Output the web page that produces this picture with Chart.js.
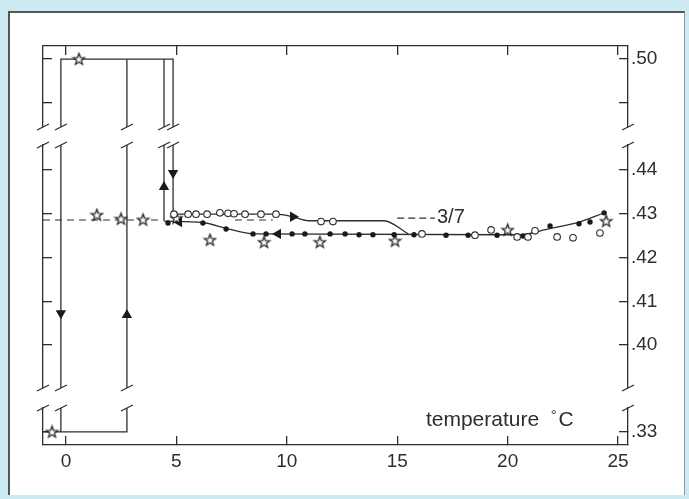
<!DOCTYPE html>
<html>
<head>
<meta charset="utf-8">
<script src="https://cdn.jsdelivr.net/npm/chart.js@4.4.1/dist/chart.umd.min.js"></script>
<style>
html, body { margin: 0; padding: 0; width: 689px; height: 499px; overflow: hidden; background: #cde9f2; }
#panel { position: absolute; left: 8px; top: 11px; width: 674px; height: 482px; background: #fff;
         border-left: 2px solid #555; border-top: 2px solid #555; border-right: 1px solid #999; }
canvas { position: absolute; left: 0; top: 0; }
</style>
</head>
<body>
<div id="panel"></div>
<canvas id="chart" width="689" height="499"></canvas>
<script>
// temperature axis
const xRange = [-1.04, 25.45];
const xTicks = [0, 5, 10, 15, 20, 25];

// broken value axis, three pieces
const topRange = [0.4845, 0.503];
const midRange = [0.3902, 0.4457];
const botRange = [0.327, 0.3355];
const topTicks = [0.49, 0.50];
const midTicks = [0.40, 0.41, 0.42, 0.43, 0.44];
const botTicks = [0.33];

// open circles
const openT = [4.89, 5.53, 5.89, 6.39, 6.97, 7.34, 7.61, 8.11, 8.83, 9.51, 11.55, 12.09,
               16.12, 18.52, 19.25, 20.43, 20.92, 21.24, 22.24, 22.96, 24.18];
const openV = [0.4299, 0.4299, 0.4299, 0.4299, 0.4302, 0.4301, 0.4300, 0.4299, 0.4299, 0.4299, 0.4282, 0.4282,
               0.4254, 0.4251, 0.4263, 0.4247, 0.4247, 0.4261, 0.4247, 0.4245, 0.4256];

// filled dots
const dotT = [4.62, 6.20, 7.25, 8.47, 9.06, 10.24, 10.82, 11.96, 12.64, 13.27, 13.90, 14.86,
              15.76, 17.21, 18.21, 19.52, 20.70, 21.92, 23.23, 23.73, 24.37];
const dotV = [0.4279, 0.4279, 0.4265, 0.4254, 0.4254, 0.4254, 0.4254, 0.4254, 0.4254, 0.4252, 0.4252, 0.4252,
              0.4252, 0.4251, 0.4251, 0.4251, 0.4249, 0.4272, 0.4277, 0.4281, 0.4302];

// stars
const starT = [0.59, -0.63, 1.40, 2.49, 3.49, 5.00, 6.52, 8.97, 11.50, 14.90, 20.00, 24.46];
const starV = [0.50, 0.33, 0.4297, 0.4288, 0.4286, 0.4290, 0.4240, 0.4235, 0.4235, 0.4238, 0.4263, 0.4283];

// arrow heads
const downT = [-0.23, 4.85];
const downV = [0.4073, 0.4393];
const upT = [2.76, 4.44];
const upV = [0.4069, 0.4361];
const rightT = [10.28];
const rightV = [0.4293];
const leftT = [5.12, 9.60];
const leftV = [0.4281, 0.4254];

// curves
const upperT = [4.85, 9.50, 10.28, 11.00, 14.40, 15.50];
const upperV = [0.4299, 0.4299, 0.4293, 0.4284, 0.4284, 0.4254];
const lowerT = [4.44, 6.20, 7.30, 8.50, 20.50, 21.90, 23.20, 24.37];
const lowerV = [0.4283, 0.4280, 0.4266, 0.4254, 0.4252, 0.4266, 0.4280, 0.4302];

// jumps
const jumpAT = [-1.04, 2.76, 2.76];
const jumpAV = [0.33, 0.33, 0.50];
const jumpBT = [-0.23, -0.23, 4.85, 4.85];
const jumpBV = [0.33, 0.50, 0.50, 0.4299];
const jumpCT = [4.44, 4.44];
const jumpCV = [0.4285, 0.50];

// 3/7 level
const ratioV = 3 / 7;
const ratioDashes = [[-1.04, 4.44], [7.65, 9.37]];
const leaderT = [15.0, 16.7];
const leaderV = 0.4290;

const ink = '#2e2e2e';
const fontFamily = '"Liberation Sans", Arial, Helvetica, sans-serif';

const sections = [
    {id: 'rTop', range: topRange},
    {id: 'rMid', range: midRange},
    {id: 'rBot', range: botRange}
];

function sectionOf(v) {
    return sections.find(s => v >= s.range[0] && v <= s.range[1]).id;
}

function starImage() {
    let c = document.createElement('canvas'),
        g = c.getContext('2d');
    c.width = 15;
    c.height = 15;
    g.beginPath();
    for (let i = 0; i < 10; i++) {
        let r = i % 2 ? 2.5 : 6,
            a = -Math.PI / 2 + i * Math.PI / 5;
        g.lineTo(7.5 + r * Math.cos(a), 7.8 + r * Math.sin(a));
    }
    g.closePath();
    g.fillStyle = '#fff';
    g.fill();
    g.strokeStyle = '#1e1e1e';
    g.lineWidth = 1.25;
    g.stroke();
    return c;
}

function clipPieces(ts, vs, lo, hi) {
    let pieces = [], cur = null;
    for (let i = 0; i < ts.length - 1; i++) {
        let x0 = ts[i], y0 = vs[i], x1 = ts[i + 1], y1 = vs[i + 1],
            t0 = 0, t1 = 1;
        if (y0 === y1) {
            if (y0 < lo || y0 > hi) { cur = null; continue; }
        } else {
            let a = (lo - y0) / (y1 - y0), b = (hi - y0) / (y1 - y0);
            if (a > b) [a, b] = [b, a];
            t0 = Math.max(0, a);
            t1 = Math.min(1, b);
            if (t0 >= t1) { cur = null; continue; }
        }
        let p = {x: x0 + (x1 - x0) * t0, y: y0 + (y1 - y0) * t0},
            q = {x: x0 + (x1 - x0) * t1, y: y0 + (y1 - y0) * t1};
        if (cur && t0 === 0) cur.push(q);
        else { cur = [p, q]; pieces.push(cur); }
        if (t1 < 1) cur = null;
    }
    return pieces;
}

const datasets = [];

function addPoints(ts, vs, style) {
    sections.forEach(s => {
        let data = ts.map((t, i) => ({x: t, y: vs[i]})).filter(p => sectionOf(p.y) === s.id);
        if (data.length) datasets.push(Object.assign({data, yAxisID: s.id, showLine: false, order: 0}, style));
    });
}

function addTrace(ts, vs, style) {
    sections.forEach(s => {
        clipPieces(ts, vs, s.range[0], s.range[1]).forEach(data => {
            datasets.push(Object.assign({
                data, yAxisID: s.id, showLine: true, pointRadius: 0,
                borderColor: ink, borderWidth: 1.3, order: 1
            }, style));
        });
    });
}

addTrace(jumpAT, jumpAV, {});
addTrace(jumpBT, jumpBV, {});
addTrace(jumpCT, jumpCV, {});
addTrace(upperT, upperV, {cubicInterpolationMode: 'monotone'});
addTrace(lowerT, lowerV, {cubicInterpolationMode: 'monotone'});
ratioDashes.forEach(d => addTrace(d, [ratioV, ratioV], {borderDash: [7, 5], borderWidth: 1.2}));
addTrace(leaderT, [leaderV, leaderV], {borderDash: [7, 4], borderWidth: 1.2});

addPoints(openT, openV, {pointStyle: 'circle', pointRadius: 3.3, pointBorderWidth: 1.1,
    pointBackgroundColor: '#fff', pointBorderColor: ink});
addPoints(dotT, dotV, {pointStyle: 'circle', pointRadius: 2.7, pointBorderWidth: 0,
    pointBackgroundColor: '#1a1a1a', pointBorderColor: '#1a1a1a'});
addPoints(starT, starV, {pointStyle: starImage(), pointRadius: 6});
[[downT, downV, 180], [upT, upV, 0], [rightT, rightV, 90], [leftT, leftV, 270]].forEach(([ts, vs, rot]) => {
    addPoints(ts, vs, {pointStyle: 'triangle', pointRadius: 6, pointRotation: rot, pointBorderWidth: 0,
        pointBackgroundColor: '#1a1a1a', pointBorderColor: '#1a1a1a'});
});

// break marks where lines cross the gaps
const gaps = [
    {upper: 'rTop', lower: 'rMid', lo: midRange[1], hi: topRange[0]},
    {upper: 'rMid', lower: 'rBot', lo: botRange[1], hi: midRange[0]}
];
gaps.forEach(g => {
    g.xs = [xRange[0], xRange[1]];
    [[jumpAT, jumpAV], [jumpBT, jumpBV], [jumpCT, jumpCV]].forEach(([ts, vs]) => {
        for (let i = 0; i < ts.length - 1; i++) {
            if (ts[i] === ts[i + 1] && Math.min(vs[i], vs[i + 1]) <= g.lo && Math.max(vs[i], vs[i + 1]) >= g.hi) {
                g.xs.push(ts[i]);
            }
        }
    });
});

const breakMarks = {
    id: 'breakMarks',
    afterDatasetsDraw(chart) {
        let {ctx, scales} = chart;
        ctx.save();
        ctx.strokeStyle = ink;
        ctx.lineWidth = 1.3;
        gaps.forEach(g => {
            [scales[g.upper].bottom, scales[g.lower].top].forEach(y => {
                g.xs.forEach(t => {
                    let px = scales.x.getPixelForValue(t);
                    ctx.beginPath();
                    ctx.moveTo(px - 6, y + 3);
                    ctx.lineTo(px + 6, y - 3);
                    ctx.stroke();
                });
            });
        });
        ctx.restore();
    }
};

const labels = {
    id: 'labels',
    afterDatasetsDraw(chart) {
        let {ctx, scales} = chart;
        ctx.save();
        ctx.fillStyle = ink;
        ctx.textBaseline = 'middle';
        ctx.font = '20px ' + fontFamily;
        ctx.fillText('3/7', scales.x.getPixelForValue(16.8), scales.rMid.getPixelForValue(leaderV) - 1);
        let y = scales.rBot.getPixelForValue(0.3327);
        ctx.font = '21px ' + fontFamily;
        ctx.fillText('temperature', scales.x.getPixelForValue(16.3), y);
        ctx.font = '15px ' + fontFamily;
        ctx.fillText('°', scales.x.getPixelForValue(21.95), y - 4);
        ctx.font = '21px ' + fontFamily;
        ctx.fillText('C', scales.x.getPixelForValue(22.3), y);
        ctx.restore();
    }
};

function valueScale(pos, ticks, range, layoutWeight, stackWeight, showLabels) {
    return {
        type: 'linear', position: pos, stack: 'stack' + pos, stackWeight, weight: layoutWeight,
        min: range[0], max: range[1],
        afterBuildTicks: s => { s.ticks = ticks.map(v => ({value: v})); },
        afterFit: s => { s.width = pos === 'right' ? 50 : 0; },
        border: {display: true, color: ink, width: 1.3},
        grid: {drawOnChartArea: false, drawTicks: true, tickLength: -9, color: ink, lineWidth: 1.3},
        ticks: {
            display: showLabels, padding: 12, color: ink,
            font: {family: fontFamily, size: 19},
            callback: v => Math.round(v * 100) === 49 ? '' : '.' + Math.round(v * 100)
        }
    };
}

function gapScale(pos, layoutWeight, stackWeight) {
    return {
        type: 'linear', position: pos, stack: 'stack' + pos, stackWeight, weight: layoutWeight,
        min: 0, max: 1,
        afterFit: s => { s.width = pos === 'right' ? 50 : 0; },
        border: {display: false}, grid: {display: false}, ticks: {display: false}
    };
}

function tempScale(pos) {
    return {
        type: 'linear', position: pos, min: xRange[0], max: xRange[1],
        afterBuildTicks: s => { s.ticks = xTicks.map(v => ({value: v})); },
        afterFit: s => { s.height = pos === 'bottom' ? 30 : 0; },
        border: {display: true, color: ink, width: 1.3},
        grid: {drawOnChartArea: false, drawTicks: true, tickLength: -9, color: ink, lineWidth: 1.3},
        ticks: {display: pos === 'bottom', padding: 14, color: ink, font: {family: fontFamily, size: 19}}
    };
}

new Chart(document.getElementById('chart'), {
    type: 'scatter',
    data: {datasets},
    options: {
        responsive: false,
        animation: false,
        layout: {padding: {left: 43, right: 11, top: 46, bottom: 24}},
        plugins: {legend: {display: false}, tooltip: {enabled: false}},
        scales: {
            x: tempScale('bottom'),
            x2: tempScale('top'),
            rTop: valueScale('right', topTicks, topRange, 1, 81, true),
            rGap1: gapScale('right', 2, 18),
            rMid: valueScale('right', midTicks, midRange, 3, 243, true),
            rGap2: gapScale('right', 4, 20),
            rBot: valueScale('right', botTicks, botRange, 5, 37, true),
            lTop: valueScale('left', topTicks, topRange, 5, 81, false),
            lGap1: gapScale('left', 4, 18),
            lMid: valueScale('left', midTicks, midRange, 3, 243, false),
            lGap2: gapScale('left', 2, 20),
            lBot: valueScale('left', botTicks, botRange, 1, 37, false)
        }
    },
    plugins: [breakMarks, labels]
});
</script>
</body>
</html>
